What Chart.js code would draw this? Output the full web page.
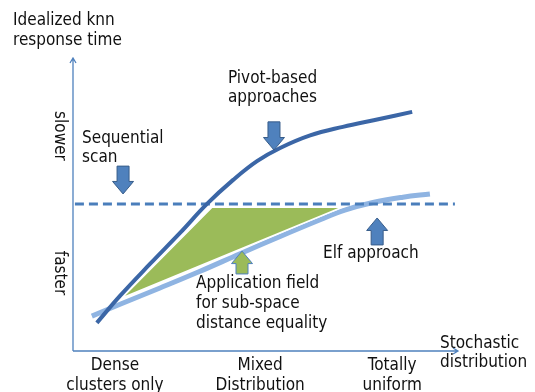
<!DOCTYPE html>
<html>
<head>
<meta charset="utf-8">
<script src="https://cdn.jsdelivr.net/npm/chart.js@4"></script>
<style>
  html, body { margin: 0; padding: 0; background: #fff; }
  #wrap { width: 535px; height: 392px; }
</style>
</head>
<body>
<div id="wrap"><canvas id="c" width="535" height="392"></canvas></div>
<script>
// Axis extents (abstract units: data distribution → response time)
const xRange = [0, 10];
const yRange = [0, 10];

// Pivot-based approaches: response time rises steeply, then levels off
const pivotX = [0.62, 1.22, 2.00, 2.78, 3.48, 4.16, 4.78, 5.38, 6.16, 7.01, 7.90, 8.81];
const pivotY = [0.96, 1.88, 2.97, 4.03, 5.02, 5.84, 6.48, 6.93, 7.36, 7.65, 7.90, 8.16];

// Elf approach: gentle, nearly linear growth
const elfX = [0.49, 1.27, 2.26, 3.30, 4.34, 5.38, 6.42, 7.06, 7.79, 8.57, 9.27];
const elfY = [1.19, 1.62, 2.15, 2.72, 3.32, 3.91, 4.48, 4.81, 5.07, 5.25, 5.36];

// Sequential scan: constant cost
const seqX = [0.05, 9.92];
const seqY = [5.02, 5.02];

// Application field for sub-space distance equality (closed triangle)
const fieldX = [1.27, 3.61, 6.99, 1.27];
const fieldY = [1.81, 4.91, 4.91, 1.81];

// Callout arrows: x, tail y, tip y
const arrowNames = ['seq', 'pivot', 'elf', 'field'];
const arrowX    = [1.30, 5.22, 7.90, 4.39];
const arrowTail = [6.31, 7.82, 3.62, 2.63];
const arrowTip  = [5.36, 6.86, 4.54, 3.41];

// Category labels along the x axis
const xLabels = [['Dense', 'clusters only'], ['Mixed', 'Distribution'], ['Totally', 'uniform']];
const xLabelPos = [1.09, 4.86, 8.29];

const zip = (xs, ys) => xs.map((x, i) => ({ x, y: ys[i] }));

const FONT = '17px "DejaVu Sans Condensed", "DejaVu Sans", sans-serif';
const AXIS = '#4f81bd';

function blockArrow(ctx, cx, tail, tip, fill, stroke) {
  const dir = tip > tail ? 1 : -1;
  const shaft = 6, head = 10.5, headLen = 12.5;
  const base = tip - dir * headLen;
  ctx.beginPath();
  ctx.moveTo(cx - shaft, tail);
  ctx.lineTo(cx + shaft, tail);
  ctx.lineTo(cx + shaft, base);
  ctx.lineTo(cx + head, base);
  ctx.lineTo(cx, tip);
  ctx.lineTo(cx - head, base);
  ctx.lineTo(cx - shaft, base);
  ctx.closePath();
  ctx.fillStyle = fill;
  ctx.fill();
  ctx.lineWidth = 1;
  ctx.strokeStyle = stroke;
  ctx.stroke();
}

const decor = {
  id: 'decor',
  beforeDatasetsDraw(chart) {
    const { ctx, chartArea: a } = chart;
    ctx.save();
    ctx.strokeStyle = AXIS;
    ctx.lineWidth = 1.3;
    // y axis with arrowhead
    ctx.beginPath();
    ctx.moveTo(a.left, a.bottom);
    ctx.lineTo(a.left, a.top);
    ctx.moveTo(a.left - 3, a.top + 5);
    ctx.lineTo(a.left, a.top);
    ctx.lineTo(a.left + 3, a.top + 5);
    // x axis with arrowhead
    ctx.moveTo(a.left, a.bottom);
    ctx.lineTo(a.right, a.bottom);
    ctx.moveTo(a.right - 5, a.bottom - 3);
    ctx.lineTo(a.right, a.bottom);
    ctx.lineTo(a.right - 5, a.bottom + 3);
    ctx.stroke();
    ctx.restore();
  },
  afterDatasetsDraw(chart) {
    const { ctx } = chart;
    const xs = chart.scales.x, ys = chart.scales.y;
    ctx.save();
    arrowNames.forEach((n, i) => {
      const cx = xs.getPixelForValue(arrowX[i]);
      const t0 = ys.getPixelForValue(arrowTail[i]);
      const t1 = ys.getPixelForValue(arrowTip[i]);
      if (n === 'field') blockArrow(ctx, cx, t0, t1, '#9bbb59', '#4f81bd');
      else blockArrow(ctx, cx, t0, t1, '#4f81bd', '#385d8a');
    });

    ctx.fillStyle = '#111';
    ctx.font = FONT;
    ctx.textBaseline = 'alphabetic';
    ctx.textAlign = 'left';
    const lines = (arr, x, y, lh) => arr.forEach((s, i) => ctx.fillText(s, x, y + i * lh));
    lines(['Idealized knn', 'response time'], 13, 25, 20);
    lines(['Pivot-based', 'approaches'], 228, 83, 19);
    lines(['Sequential', 'scan'], 82, 143, 19);
    lines(['Elf approach'], 323, 258, 20);
    lines(['Application field', 'for sub-space', 'distance equality'], 196, 288, 20);
    lines(['Stochastic', 'distribution'], 440, 348, 19);

    ctx.textAlign = 'center';
    xLabels.forEach((lab, i) => {
      const px = xs.getPixelForValue(xLabelPos[i]);
      lines(lab, px, 370, 20);
    });

    // rotated y-axis hints
    const vtext = (s, cy) => {
      ctx.save();
      ctx.translate(55, cy);
      ctx.rotate(Math.PI / 2);
      ctx.textAlign = 'center';
      ctx.fillText(s, 0, 0);
      ctx.restore();
    };
    vtext('slower', 136);
    vtext('faster', 273);
    ctx.restore();
  }
};

new Chart(document.getElementById('c'), {
  type: 'line',
  data: {
    datasets: [
      {
        label: 'Pivot-based approaches',
        data: zip(pivotX, pivotY),
        borderColor: '#3b66a6',
        borderWidth: 4,
        tension: 0.4,
        pointRadius: 0,
        fill: false
      },
      {
        label: 'Sequential scan',
        data: zip(seqX, seqY),
        borderColor: '#4a7ebb',
        borderWidth: 3,
        borderDash: [9, 5],
        pointRadius: 0,
        fill: false
      },
      {
        label: 'Application field',
        data: zip(fieldX, fieldY),
        borderColor: '#ffffff',
        borderWidth: 1.5,
        backgroundColor: '#9bbb59',
        pointRadius: 0,
        tension: 0,
        fill: 'shape'
      },
      {
        label: 'Elf approach',
        data: zip(elfX, elfY),
        borderColor: '#8fb4e2',
        borderWidth: 5,
        tension: 0.4,
        pointRadius: 0,
        fill: false
      }
    ]
  },
  options: {
    responsive: false,
    animation: false,
    layout: { padding: { left: 73, right: 77, top: 58, bottom: 41 } },
    scales: {
      x: { type: 'linear', min: xRange[0], max: xRange[1], display: false },
      y: { type: 'linear', min: yRange[0], max: yRange[1], display: false }
    },
    plugins: { legend: { display: false }, tooltip: { enabled: false } }
  },
  plugins: [decor]
});
</script>
</body>
</html>
